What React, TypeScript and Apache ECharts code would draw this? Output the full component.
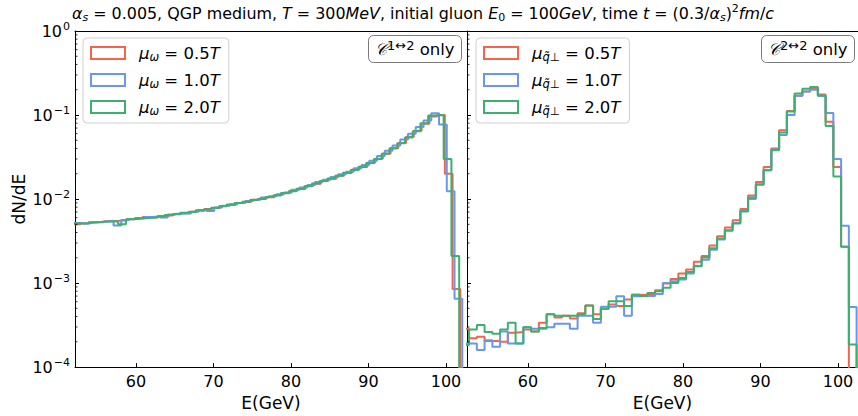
import React, { useEffect, useRef } from 'react';
import * as echarts from 'echarts';

const FONT = 'DejaVu Sans';
const RED = '#f5634a';
const BLUE = '#6a96ec';
const GREEN = '#3cb06e';

const BIN_WIDTH = 1.0;
const LEFT_X_MIN = 52.13;
const LEFT_X_MAX = 102.71;
const RIGHT_X_MIN = 52.13;
const RIGHT_X_MAX = 102.58;
const Y_MIN = 1e-4;
const Y_MAX = 1;
const X_TICKS = [60, 70, 80, 90, 100];

// legend labels
const LEFT_NAMES = ['μω = 0.5T', 'μω = 1.0T', 'μω = 2.0T'];
const RIGHT_NAMES = ['μq̃⊥ = 0.5T', 'μq̃⊥ = 1.0T', 'μq̃⊥ = 2.0T'];
const LEFT_RICH = ['{it|μ}{sub|ω} = 0.5{it|T}', '{it|μ}{sub|ω} = 1.0{it|T}', '{it|μ}{sub|ω} = 2.0{it|T}'];
const RIGHT_RICH = ['{it|μ}{sub|q̃⊥} = 0.5{it|T}', '{it|μ}{sub|q̃⊥} = 1.0{it|T}', '{it|μ}{sub|q̃⊥} = 2.0{it|T}'];

// first bin left edges (GeV)
const LEFT_START_RED = 51.85;
const LEFT_START_BLUE = 51.1;
const LEFT_START_GREEN = 51.7;
const RIGHT_START_RED = 51.4;
const RIGHT_START_BLUE = 51.4;
const RIGHT_START_GREEN = 51.4;

// Left panel (C 1<->2 only), dN/dE per 1 GeV bin
const leftRed = [
  5.0e-3, 5.1e-3, 5.3e-3, 5.3e-3, 5.45e-3, 5.5e-3, 5.6e-3, 5.75e-3, 5.95e-3, 6.1e-3,
  6.05e-3, 6.3e-3, 6.4e-3, 6.65e-3, 6.8e-3, 7.05e-3, 7.25e-3, 7.6e-3, 7.8e-3, 8.25e-3,
  8.5e-3, 9.0e-3, 9.2e-3, 9.8e-3, 1.01e-2, 1.05e-2, 1.12e-2, 1.17e-2, 1.26e-2, 1.32e-2,
  1.43e-2, 1.52e-2, 1.65e-2, 1.75e-2, 1.9e-2, 2.04e-2, 2.24e-2, 2.4e-2, 2.7e-2, 3.02e-2,
  3.48e-2, 4.05e-2, 4.65e-2, 5.5e-2, 6.5e-2, 7.9e-2, 9.6e-2, 0.100, 0.020, 8.5e-4,
];
const leftBlue = [
  5.2e-3, 5.2e-3, 5.1e-3, 5.3e-3, 5.4e-3, 5.5e-3, 4.85e-3, 5.65e-3, 5.8e-3, 5.9e-3,
  6.1e-3, 6.2e-3, 6.05e-3, 6.55e-3, 6.7e-3, 6.75e-3, 7.05e-3, 7.4e-3, 7.2e-3, 7.95e-3,
  8.35e-3, 8.7e-3, 9.0e-3, 9.5e-3, 9.8e-3, 1.04e-2, 1.08e-2, 1.14e-2, 1.2e-2, 1.29e-2,
  1.37e-2, 1.47e-2, 1.6e-2, 1.7e-2, 1.83e-2, 1.97e-2, 2.12e-2, 2.32e-2, 2.55e-2, 2.85e-2,
  3.25e-2, 3.75e-2, 4.35e-2, 5.1e-2, 6.0e-2, 7.2e-2, 8.6e-2, 0.105, 0.077, 1.24e-2,
  6.5e-4,
];
const leftGreen = [
  5.1e-3, 5.15e-3, 5.25e-3, 5.35e-3, 5.4e-3, 5.45e-3, 5.0e-3, 5.75e-3, 5.85e-3, 5.95e-3,
  6.05e-3, 6.2e-3, 6.45e-3, 6.6e-3, 6.85e-3, 7.0e-3, 7.35e-3, 7.5e-3, 7.9e-3, 8.2e-3,
  8.6e-3, 8.95e-3, 9.3e-3, 9.75e-3, 1.0e-2, 1.06e-2, 1.1e-2, 1.18e-2, 1.24e-2, 1.33e-2,
  1.42e-2, 1.53e-2, 1.64e-2, 1.76e-2, 1.9e-2, 2.05e-2, 2.22e-2, 2.42e-2, 2.68e-2, 3.0e-2,
  3.45e-2, 4.0e-2, 4.6e-2, 5.4e-2, 6.4e-2, 8.0e-2, 0.099, 0.100, 0.030, 2.1e-3,
];

// Right panel (C 2<->2 only)
const rightRed = [
  2.86e-4, 2.2e-4, 2.29e-4, 2.04e-4, 2.04e-4, 2.0e-4, 2.57e-4, 2.61e-4, 2.81e-4, 2.66e-4,
  3.36e-4, 4.27e-4, 3.9e-4, 4.08e-4, 3.8e-4, 4.38e-4, 5.42e-4, 4.27e-4, 4.96e-4, 5.57e-4,
  5.33e-4, 6.37e-4, 7.28e-4, 7.2e-4, 7.4e-4, 8.2e-4, 9.9e-4, 1.12e-3, 1.3e-3, 1.45e-3,
  1.8e-3, 2.1e-3, 2.8e-3, 3.6e-3, 4.6e-3, 5.6e-3, 7.6e-3, 1.1e-2, 1.6e-2, 2.4e-2,
  4.0e-2, 6.6e-2, 0.112, 0.17, 0.19, 0.21, 0.175, 0.083, 0.024, 2.7e-3,
];
const rightBlue = [
  1.91e-4, 1.91e-4, 1.6e-4, 2.09e-4, 1.75e-4, 2.66e-4, 1.91e-4, 1.91e-4, 2.99e-4, 2.86e-4,
  2.86e-4, 2.99e-4, 3.27e-4, 3.27e-4, 2.86e-4, 4.08e-4, 4.08e-4, 3.36e-4, 5.24e-4, 5.24e-4,
  6.96e-4, 4.08e-4, 6.96e-4, 7.0e-4, 7.0e-4, 7.4e-4, 1.0e-3, 1.05e-3, 1.1e-3, 1.3e-3,
  1.6e-3, 1.9e-3, 2.5e-3, 3.3e-3, 4.2e-3, 5.2e-3, 7.2e-3, 1.0e-2, 1.5e-2, 2.2e-2,
  3.9e-2, 5.8e-2, 0.1, 0.17, 0.19, 0.2, 0.17, 0.106, 0.03, 4.8e-3,
  5.2e-4,
];
const rightGreen = [
  1.83e-4, 2.8e-4, 3.18e-4, 2.61e-4, 2.5e-4, 2.81e-4, 3.36e-4, 1.91e-4, 2.99e-4, 2.66e-4,
  2.91e-4, 4.27e-4, 4.08e-4, 4.08e-4, 4.08e-4, 4.27e-4, 5.42e-4, 3.73e-4, 4.96e-4, 6.09e-4,
  6.09e-4, 5.33e-4, 7.28e-4, 7.0e-4, 7.6e-4, 8.0e-4, 8.8e-4, 1.0e-3, 1.15e-3, 1.35e-3,
  1.59e-3, 2.02e-3, 2.6e-3, 3.4e-3, 4.25e-3, 5.1e-3, 7.1e-3, 1.04e-2, 1.48e-2, 2.2e-2,
  3.8e-2, 6.2e-2, 0.11, 0.18, 0.206, 0.216, 0.17, 0.074, 0.0185, 2.7e-3,
  1.86e-4,
];

function stepData(start: number, values: number[]) {
  const pts: number[][] = values.map((v, i) => [start + i * BIN_WIDTH, v]);
  pts.push([start + values.length * BIN_WIDTH, 1e-8]);
  return pts;
}

function minorTickValues() {
  const out: number[] = [];
  for (let e = -4; e < 0; e++) {
    for (let m = 2; m <= 9; m++) out.push(m * Math.pow(10, e));
  }
  return out;
}

const supMinus = (n: number) => (n < 0 ? '\u2212' + Math.abs(n) : String(n));

export default function App() {
  const ref = useRef<HTMLDivElement>(null);
  useEffect(() => {
    if (!ref.current) return;
    const chart = echarts.init(ref.current, undefined, { renderer: 'svg' });

    const baseText = { fontFamily: FONT, color: '#000', fontWeight: 'normal' as const };
    const mkRich = (fs: number, sfs: number) => ({
      it: { fontStyle: 'italic', fontFamily: FONT, fontSize: fs },
      sub: { fontStyle: 'italic', fontFamily: FONT, fontSize: sfs, verticalAlign: 'bottom', lineHeight: sfs + 1 },
      sub0: { fontFamily: FONT, fontSize: sfs, verticalAlign: 'bottom', lineHeight: sfs + 1 },
      sup: { fontFamily: FONT, fontSize: sfs, verticalAlign: 'top', lineHeight: sfs + 1 },
      sup2: { fontFamily: FONT, fontSize: sfs + 1.5, verticalAlign: 'top', lineHeight: sfs + 2.5 },
      cal: { fontFamily: FONT, fontStyle: 'italic', fontSize: fs },
    });

    const spineAxis = (gridIndex: number, min: number, max: number) => ({
      gridIndex,
      type: 'value',
      position: 'top',
      min,
      max,
      splitLine: { show: false },
      axisLine: { show: true, onZero: false, lineStyle: { color: '#000', width: 1 } },
      axisTick: { show: false },
      axisLabel: { show: false },
    });

    const xAxisCommon = (gridIndex: number, min: number, max: number) => ({
      gridIndex,
      type: 'value',
      position: 'bottom',
      min,
      max,
      minInterval: 10,
      maxInterval: 10,
      splitLine: { show: false },
      axisLine: { show: true, onZero: false, lineStyle: { color: '#000', width: 1 } },
      axisTick: { show: true, inside: true, length: 4, lineStyle: { color: '#000', width: 1 } },
      axisLabel: {
        show: true,
        margin: 6,
        fontSize: 16,
        fontFamily: FONT,
        color: '#000',
        showMinLabel: false,
        showMaxLabel: false,
        formatter: (v: number) => (X_TICKS.indexOf(Math.round(v * 1000) / 1000) >= 0 ? String(v) : ''),
      },
      name: 'E(GeV)',
      nameLocation: 'middle',
      nameGap: 21,
      nameTextStyle: { fontSize: 17, fontFamily: FONT, color: '#000' },
    });

    const yAxisCommon = (gridIndex: number, showLabels: boolean) => ({
      gridIndex,
      type: 'log',
      logBase: 10,
      position: 'left',
      min: Y_MIN,
      max: Y_MAX,
      splitLine: { show: false },
      axisLine: { show: true, onZero: false, lineStyle: { color: '#000', width: 1 } },
      axisTick: { show: true, inside: true, length: 4, lineStyle: { color: '#000', width: 1 } },
      axisLabel: {
        show: showLabels,
        margin: 5,
        fontSize: 16,
        fontFamily: FONT,
        color: '#000',
        lineHeight: 20,
        formatter: (v: number) => '10{sup|' + supMinus(Math.round(Math.log10(v))) + '}',
        rich: {
          sup: { fontSize: 11, fontFamily: FONT, verticalAlign: 'top', lineHeight: 12, padding: [0, 0, 0, 1] },
        },
      },
      name: showLabels ? 'dN/dE' : '',
      nameLocation: 'middle',
      nameGap: 48,
      nameRotate: 90,
      nameTextStyle: { fontSize: 17, fontFamily: FONT, color: '#000' },
    });

    const histSeries = (name: string, color: string, start: number, values: number[], idx: number) => ({
      name,
      type: 'line',
      step: 'end',
      xAxisIndex: idx,
      yAxisIndex: idx,
      data: stepData(start, values),
      showSymbol: false,
      symbol: 'none',
      clip: true,
      lineStyle: { color, width: 2 },
      itemStyle: { color },
      silent: true,
      z: 3,
    });

    const minorSeries = (idx: number, xMin: number) => ({
      type: 'custom',
      xAxisIndex: idx,
      yAxisIndex: idx,
      silent: true,
      clip: false,
      z: 5,
      data: minorTickValues().map((v) => [xMin, v]),
      renderItem: (_p: any, api: any) => {
        const pt = api.coord([api.value(0), api.value(1)]);
        return {
          type: 'line',
          shape: { x1: pt[0], y1: pt[1], x2: pt[0] + 2.5, y2: pt[1] },
          style: { stroke: '#000', lineWidth: 0.8 },
        };
      },
    });

    const legendCommon = (left: number, names: string[], richLabels: string[]) => ({
      show: true,
      left,
      top: 38,
      orient: 'vertical',
      icon: 'rect',
      itemWidth: 34,
      itemHeight: 12,
      itemGap: 7,
      padding: [5, 9, 6, 7],
      backgroundColor: 'rgba(255,255,255,0.85)',
      borderColor: '#d0d0d0',
      borderWidth: 1,
      borderRadius: 4,
      selectedMode: false,
      data: names.map((n, i) => ({
        name: n,
        itemStyle: { color: 'rgba(255,255,255,0)', borderColor: [RED, BLUE, GREEN][i], borderWidth: 2 },
      })),
      formatter: (n: string) => richLabels[names.indexOf(n)],
      textStyle: { ...baseText, fontSize: 16.5, lineHeight: 20, padding: [0, 0, 0, 9], rich: mkRich(16.5, 11.5) },
    });

    const boxTitle = (text: string, left: number) => ({
      text,
      left,
      top: 35,
      padding: [4, 7, 3, 7],
      borderColor: '#7a7a7a',
      borderWidth: 1,
      borderRadius: 5,
      backgroundColor: '#fff',
      textStyle: { ...baseText, fontSize: 16.5, lineHeight: 21, rich: mkRich(16.5, 11.5) },
    });

    const option: any = {
      animation: false,
      backgroundColor: '#fff',
      title: [
        {
          text:
            '{it|α}{sub|s} = 0.005, QGP medium, {it|T} = 300{it|MeV}, initial gluon {it|E}{sub0|0} = 100{it|GeV}, time {it|t} = (0.3/{it|α}{sub|s}){sup|2}{it|fm}/{it|c}',
          left: 72,
          top: 3,
          padding: 0,
          textStyle: { ...baseText, fontSize: 15.9, lineHeight: 20, rich: mkRich(15.9, 11) },
        },
        boxTitle('{cal|𝒞}{sup2|1↔2} only', 368),
        boxTitle('{cal|𝒞}{sup2|2↔2} only', 761),
      ],
      legend: [legendCommon(83, LEFT_NAMES, LEFT_RICH), legendCommon(476, RIGHT_NAMES, RIGHT_RICH)],
      grid: [
        { left: 75, right: 391, top: 31, bottom: 40 },
        { left: 467, right: 0, top: 31, bottom: 40 },
      ],
      xAxis: [
        xAxisCommon(0, LEFT_X_MIN, LEFT_X_MAX),
        xAxisCommon(1, RIGHT_X_MIN, RIGHT_X_MAX),
        spineAxis(0, LEFT_X_MIN, LEFT_X_MAX),
        spineAxis(1, RIGHT_X_MIN, RIGHT_X_MAX),
      ],
      yAxis: [yAxisCommon(0, true), yAxisCommon(1, false)],
      series: [
        histSeries(LEFT_NAMES[0], RED, LEFT_START_RED, leftRed, 0),
        histSeries(LEFT_NAMES[1], BLUE, LEFT_START_BLUE, leftBlue, 0),
        histSeries(LEFT_NAMES[2], GREEN, LEFT_START_GREEN, leftGreen, 0),
        histSeries(RIGHT_NAMES[0], RED, RIGHT_START_RED, rightRed, 1),
        histSeries(RIGHT_NAMES[1], BLUE, RIGHT_START_BLUE, rightBlue, 1),
        histSeries(RIGHT_NAMES[2], GREEN, RIGHT_START_GREEN, rightGreen, 1),
        minorSeries(0, LEFT_X_MIN),
        minorSeries(1, RIGHT_X_MIN),
      ],
    };
    chart.setOption(option);
    return () => chart.dispose();
  }, []);

  return (
    <div
      ref={ref}
      style={{ position: 'fixed', left: 0, top: 0, width: 858, height: 416, background: '#fff' }}
    />
  );
}
